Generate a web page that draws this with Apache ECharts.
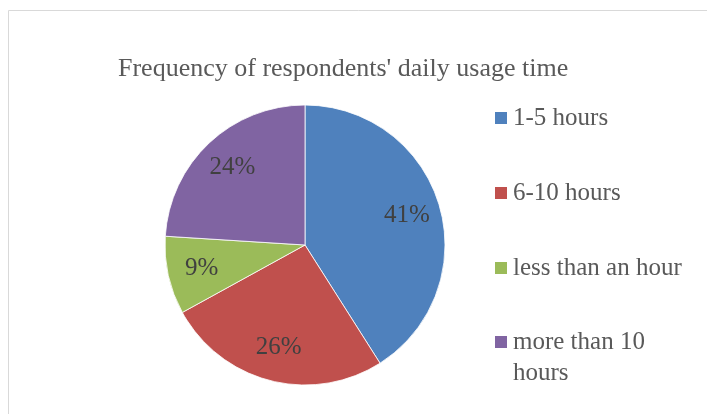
<!DOCTYPE html>
<html><head><meta charset="utf-8">
<script src="https://cdn.jsdelivr.net/npm/echarts@6/dist/echarts.min.js"></script>
<style>html,body{margin:0;padding:0;background:#fff}#c{width:707px;height:414px}</style>
</head><body><div id="c"></div>
<script>
const titleText = "Frequency of respondents' daily usage time";
const categories = ['1-5 hours', '6-10 hours', 'less than an hour', 'more than 10 hours'];
const values = [41, 26, 9, 24];
const colors = ['#4f81bd', '#c0504d', '#9bbb59', '#8064a2'];

const font = '"Liberation Serif", "Times New Roman", serif';
const chart = echarts.init(document.getElementById('c'));
const data = categories.map((n, i) => ({ name: n, value: values[i], itemStyle: { color: colors[i] } }));

chart.setOption({
  animation: false,
  graphic: [{ type: 'rect', shape: { x: 8.5, y: 10.5, width: 720, height: 430 }, style: { fill: 'none', stroke: '#d9d9d9', lineWidth: 1 }, z: -10 }],
  title: {
    text: titleText, left: 113, top: 51,
    textStyle: { fontFamily: font, fontSize: 26, fontWeight: 'normal', color: '#595959' }
  },
  legend: [{
    orient: 'vertical', left: 493, top: 102.5, padding: 0, itemWidth: 14, itemHeight: 14, itemGap: 44,
    icon: 'rect', data: categories.slice(0, 3),
    textStyle: { fontFamily: font, fontSize: 25, lineHeight: 31, color: '#595959' }
  }, {
    orient: 'vertical', left: 493, top: 295.5, padding: 0, itemWidth: 14, itemHeight: 14,
    icon: 'rect', data: categories.slice(3),
    formatter: '\n{name}',
    textStyle: { fontFamily: font, fontSize: 25, lineHeight: 31, color: '#595959', width: 185, overflow: 'break' }
  }],
  series: [{
    type: 'pie', center: [305, 245], radius: [0, 140], startAngle: 90, clockwise: true,
    label: { show: false }, labelLine: { show: false },
    itemStyle: { borderColor: '#ffffff', borderWidth: 0.8 },
    data: data
  }, {
    type: 'pie', center: [305, 245], radius: [66, 140], startAngle: 90, clockwise: true, silent: true,
    itemStyle: { color: 'rgba(0,0,0,0)' },
    label: { show: true, position: 'inside', formatter: '{c}%', fontFamily: font, fontSize: 25, color: '#404040' },
    labelLine: { show: false },
    data: categories.map((n, i) => ({ name: n, value: values[i] }))
  }]
});
</script></body></html>
